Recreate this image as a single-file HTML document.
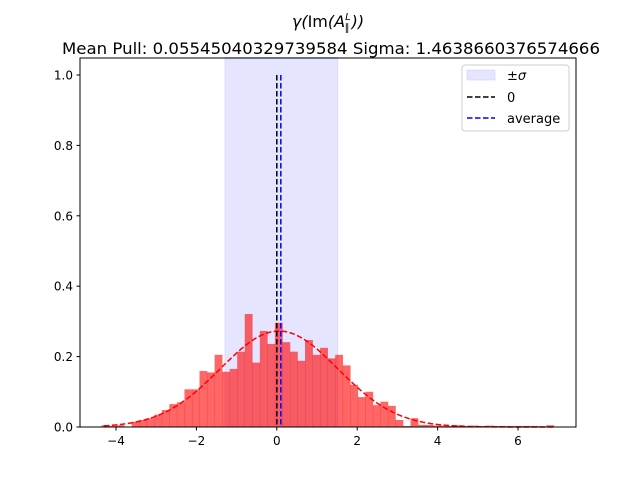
<!DOCTYPE html>
<html><head><meta charset="utf-8"><style>
body{margin:0;background:#fff}
svg{font-family:"DejaVu Sans","Liberation Sans",sans-serif}
</style></head><body>
<svg id="chart" width="640" height="480" viewBox="0 0 640 480">
<rect width="640" height="480" fill="#fff"/>
<text x="328" y="27" text-anchor="middle" font-size="16" font-style="italic">γ(<tspan font-style="normal">Im</tspan>(A<tspan font-size="10" dy="-7">L</tspan><tspan font-size="10" dy="11" dx="-6">∥</tspan><tspan dy="-4" dx="2">))</tspan></text>
<text x="331" y="54" text-anchor="middle" font-size="16" textLength="538" lengthAdjust="spacingAndGlyphs">Mean Pull: 0.05545040329739584 Sigma: 1.4638660376574666</text>
<g id="plot"></g>
<rect x="80" y="58" width="496" height="369" fill="none" stroke="#000" stroke-width="1"/>
<g id="axes" font-size="12"></g>
<g>
<rect x="462" y="65" width="107" height="66" rx="3" fill="#fff" fill-opacity="0.8" stroke="#ccc"/>
<rect x="467" y="70" width="28" height="10" fill="#e5e5ff" stroke="#ccccf5" stroke-width="0.5"/>
<text x="507" y="80" font-size="13">±<tspan font-style="italic">σ</tspan></text>
<line x1="467" y1="97" x2="495" y2="97" stroke="#000" stroke-width="1.5" stroke-dasharray="5.5,2.5"/>
<text x="507" y="102" font-size="13">0</text>
<line x1="467" y1="118" x2="495" y2="118" stroke="#00f" stroke-width="1.5" stroke-dasharray="5.5,2.5"/>
<text x="507" y="123" font-size="13">average</text>
</g>
</svg>
<script>
const binStart = -4.36;
const binWidth = 0.1875;
const binHeights = [0.005,0.003,0.005,0,0.015,0.02,0.025,0.035,0.048,0.065,0.07,0.107,0.107,0.159,0.155,0.205,0.157,0.165,0.214,0.321,0.183,0.273,0.236,0.296,0.241,0.214,0.188,0.247,0.205,0.225,0.195,0.205,0.175,0.12,0.085,0.1,0.062,0.072,0.06,0.02,0.003,0.025,0.006,0.006,0.004,0.004,0.003,0.005,0.003,0.004,0.003,0.004,0.003,0.003,0.003,0.003,0.003,0.003,0.002,0.005];
const meanPull = 0.0555;
const sigma = 1.4639;
const bandRange = [-1.29, 1.52];
const avgLineX = 0.1;
const xTicks = [-4,-2,0,2,4,6];
const yTicks = [0.0,0.2,0.4,0.6,0.8,1.0];
const NS='http://www.w3.org/2000/svg';
const X = v => 276.8 + v*40.2;
const Y = v => 427 - v*352;
const plot = document.getElementById('plot');
const axes = document.getElementById('axes');
function mk(tag, attrs, parent){const e=document.createElementNS(NS,tag);for(const k in attrs)e.setAttribute(k,attrs[k]);parent.appendChild(e);return e;}
let band = mk('rect',{x:X(bandRange[0]),y:Y(1.05),width:X(bandRange[1])-X(bandRange[0]),height:Y(0)-Y(1.05),fill:'#e5e5ff',stroke:'#ccccf5','stroke-width':0.5},plot);


binHeights.forEach((h,i)=>{
  const x0=X(binStart+i*binWidth), x1=X(binStart+(i+1)*binWidth);
  let r=mk('rect',{x:x0,y:Y(h),width:x1-x0+0.3,height:Y(0)-Y(h),fill:'#ff0000','fill-opacity':0.6},plot);
  
  
});
let pts=[];
for(let v=-4.3; v<=6.9; v+=0.05){const g=Math.exp(-0.5*((v-meanPull)/sigma)**2)/(sigma*Math.sqrt(2*Math.PI));pts.push(X(v).toFixed(1)+','+Y(g).toFixed(1));}
let gl=mk('polyline',{points:pts.join(' '),fill:'none',stroke:'#ff0000','stroke-width':1.5,'stroke-dasharray':'5.5,2.5'},plot);


let z=mk('line',{x1:X(0),x2:X(0),y1:Y(1),y2:Y(0),stroke:'#000','stroke-width':1.5,'stroke-dasharray':'5.5,2.5'},plot);


let a=mk('line',{x1:X(avgLineX),x2:X(avgLineX),y1:Y(1),y2:Y(0),stroke:'#00f','stroke-width':1.5,'stroke-dasharray':'5.5,2.5'},plot);


xTicks.forEach(t=>{
  let l=mk('line',{x1:X(t),x2:X(t),y1:427,y2:430.5,stroke:'#000'},axes);
  
  
  let tx=mk('text',{x:X(t),y:445,'text-anchor':'middle'},axes);
  tx.textContent=(t<0?'−':'')+Math.abs(t);
  
  
});
yTicks.forEach(t=>{
  let l=mk('line',{x1:76.5,x2:80,y1:Y(t),y2:Y(t),stroke:'#000'},axes);
  
  
  let tx=mk('text',{x:73,y:Y(t)+4.5,'text-anchor':'end'},axes);
  tx.textContent=t.toFixed(1);
  
  
});
</script>
</body></html>
